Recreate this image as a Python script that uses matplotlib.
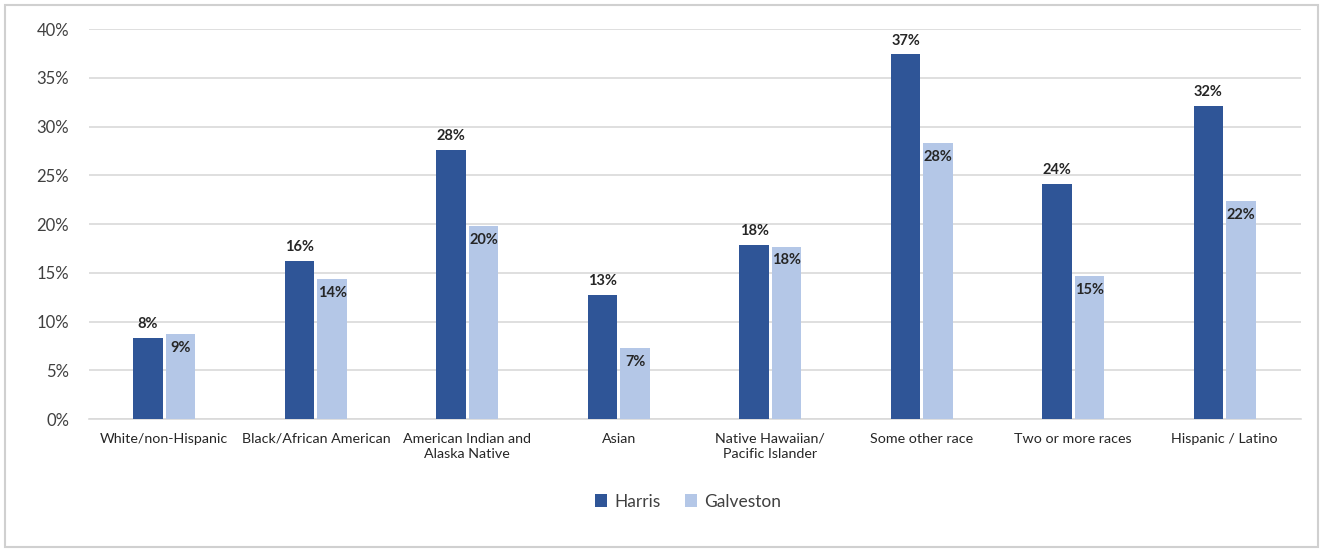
import matplotlib.pyplot as plt
import matplotlib.patches as patches
import numpy as np

categories = ['White/non-Hispanic', 'Black/African American', 'American Indian and\nAlaska Native',
              'Asian', 'Native Hawaiian/\nPacific Islander', 'Some other race',
              'Two or more races', 'Hispanic / Latino']
harris = [8.3, 16.2, 27.6, 12.7, 17.9, 37.4, 24.1, 32.1]
galveston = [8.7, 14.4, 19.8, 7.3, 17.7, 28.3, 14.7, 22.4]
harris_labels = ['8%', '16%', '28%', '13%', '18%', '37%', '24%', '32%']
galveston_labels = ['9%', '14%', '20%', '7%', '18%', '28%', '15%', '22%']

plt.rcParams['font.family'] = ['Lato', 'DejaVu Sans']

fig = plt.figure(figsize=(13.23, 5.5), dpi=100)
ax = fig.add_axes([0.067, 0.238, 0.916, 0.709])

# cadre gris autour de la figure
fig.patches.append(patches.Rectangle((0.004, 0.006), 0.992, 0.985, transform=fig.transFigure,
                                     fill=False, edgecolor='#D0D0D0', linewidth=1.5))

x = np.arange(len(categories))
w = 0.195
b1 = ax.bar(x - w / 2 - 0.01, harris, w, color='#2F5597', label='Harris', zorder=3)
b2 = ax.bar(x + w / 2 + 0.01, galveston, w, color='#B4C7E7', label='Galveston', zorder=3)

for rect, lab in zip(b1, harris_labels):
    ax.annotate(lab, (rect.get_x() + rect.get_width() / 2, rect.get_height()),
                xytext=(0, 5), textcoords='offset points', ha='center', va='bottom',
                fontsize=10.5, fontweight='bold', color='#262626')
for rect, lab in zip(b2, galveston_labels):
    ax.annotate(lab, (rect.get_x() + rect.get_width() / 2, rect.get_height()),
                xytext=(0, -5), textcoords='offset points', ha='center', va='top',
                fontsize=10.5, fontweight='bold', color='#262626')

ax.set_xlim(-0.5, len(categories) - 0.5)
ax.set_ylim(0, 40)
ax.set_yticks(range(0, 41, 5))
ax.set_yticklabels([f'{v}%' for v in range(0, 41, 5)], fontsize=12, color='#404040')
ax.set_xticks(x)
ax.set_xticklabels(categories, fontsize=10.3, color='#262626', linespacing=1.3)
ax.tick_params(axis='both', length=0)
ax.tick_params(axis='x', pad=10)
ax.tick_params(axis='y', pad=14)
ax.grid(axis='y', color='#D9D9D9', linewidth=1.2, zorder=0)
for s in ['top', 'right', 'left']:
    ax.spines[s].set_visible(False)
ax.spines['bottom'].set_color('#D9D9D9')
ax.spines['bottom'].set_linewidth(1.2)

fig.legend(loc='center', bbox_to_anchor=(0.52, 0.088), ncol=2, frameon=False,
           fontsize=12.5, handlelength=0.7, handleheight=0.7, columnspacing=1.4,
           handletextpad=0.4, labelcolor='#404040')

plt.savefig('out.png', dpi=100)
plt.close()
